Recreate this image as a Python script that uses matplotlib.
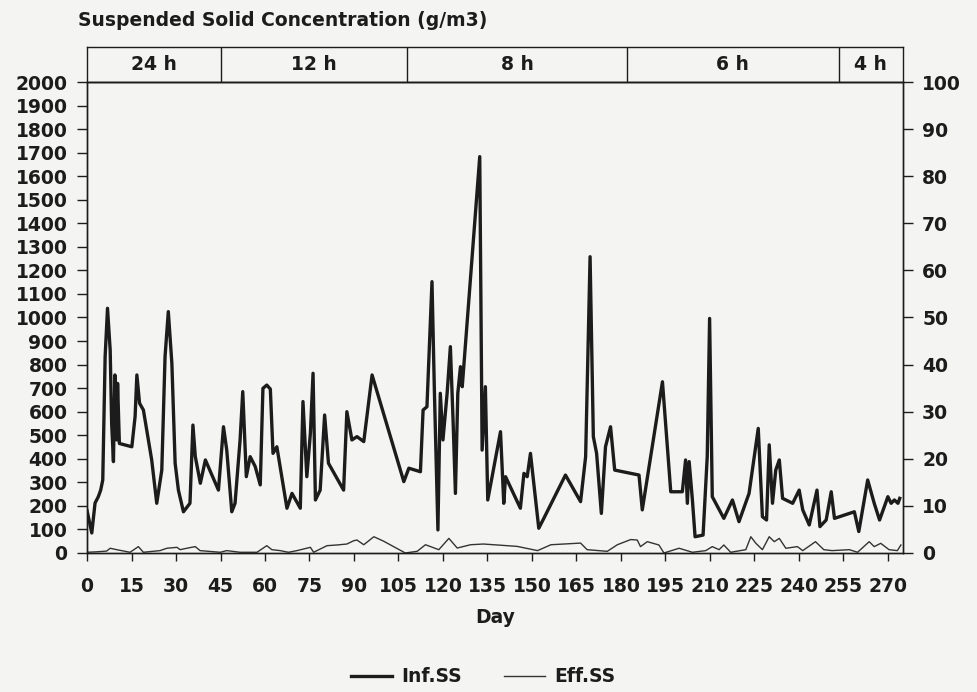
import matplotlib
matplotlib.use("Agg")
import matplotlib.pyplot as plt

# --- data
inf_days = [0, 1.6, 2.7, 3.8, 4.6, 5.3, 6.1, 6.9, 7.8, 8.3,
            8.9, 9.4, 10, 10.3, 10.9, 15.1, 16.2, 16.8, 17.7, 19.0,
            21.8, 23.5, 25.2, 26.3, 27.4, 28.6, 29.7, 30.8, 32.5, 34.7,
            35.7, 36.5, 38.2, 39.9, 44.3, 46.0, 47.1, 48.8, 49.9, 51.6,
            52.5, 53.7, 55.0, 56.7, 58.4, 59.3, 60.6, 61.8, 62.7, 64.0,
            67.4, 69.1, 71.9, 72.8, 74.1, 75.3, 76.2, 77.0, 78.6, 80.1,
            81.4, 86.5, 87.6, 89.3, 91.0, 93.3, 96.1, 106.8, 108.5, 112.4,
            113.3, 114.6, 116.3, 117.1, 118.3, 119.1, 120.0, 121.4, 122.5, 123.4,
            124.2, 125.0, 125.9, 126.5, 132.4, 133.2, 134.3, 135.1, 139.4, 140.5,
            141.1, 146.1, 147.3, 148.4, 149.5, 152.3, 154.0, 161.3, 166.4, 168.1,
            169.6, 170.7, 171.8, 173.4, 174.8, 176.5, 177.9, 186.1, 187.2, 194.0,
            196.8, 200.7, 201.8, 202.4, 203.0, 204.1, 205.0, 207.7, 209.1, 209.9,
            210.8, 214.7, 217.6, 219.8, 223.2, 226.3, 227.7, 229.1, 230.0, 231.1,
            232.2, 233.4, 234.5, 237.9, 240.1, 241.3, 243.5, 246.1, 247.1, 249.2,
            250.9, 252.0, 258.7, 260.2, 263.2, 265.4, 267.2, 270.0, 271.1, 272.2,
            273.4, 274.0]
inf_ss = [180, 85, 212, 239, 267, 310, 834, 1039, 862, 550,
          388, 756, 480, 720, 465, 451, 579, 756, 636, 607,
          395, 211, 352, 834, 1025, 805, 381, 267, 175, 211,
          543, 409, 296, 395, 267, 536, 437, 175, 211, 480,
          685, 324, 409, 367, 289, 699, 713, 696, 423, 451,
          190, 253, 190, 643, 324, 508, 763, 225, 267, 586,
          381, 267, 600, 480, 494, 473, 756, 303, 360, 345,
          607, 621, 1152, 692, 98, 678, 480, 678, 876, 565,
          253, 678, 791, 706, 1683, 437, 706, 225, 515, 211,
          324, 190, 338, 324, 423, 105, 147, 331, 218, 409,
          1258, 494, 423, 168, 451, 536, 352, 331, 183, 727,
          260, 260, 395, 211, 388, 225, 69, 76, 409, 996,
          239, 147, 225, 133, 253, 529, 154, 140, 459, 211,
          352, 395, 232, 211, 267, 183, 119, 267, 112, 140,
          260, 147, 175, 91, 310, 211, 140, 239, 211, 225,
          211, 232]

eff_days = [0, 3.3, 6.6, 7.8, 10, 14.5, 17.3, 19, 24.6, 26.9,
            30.3, 31.4, 33.6, 36.5, 38.1, 44.9, 47.1, 51.6, 57.3, 60.6,
            62.3, 65.1, 67.9, 70.8, 75.3, 76.4, 80.9, 84.3, 87.6, 89.9,
            91, 93.3, 96.7, 100, 107.3, 111.3, 114.1, 118.6, 122, 124.8,
            129.3, 133.6, 139.4, 145, 151.9, 156.4, 166.4, 168.6, 175.4, 178.8,
            183.3, 185.5, 186.6, 188.9, 192.8, 194.5, 199.6, 204.1, 208.6, 210.8,
            213.1, 214.7, 217.0, 222.1, 223.8, 225.5, 227.7, 230.0, 231.7, 233.4,
            235.6, 239.5, 241.3, 245.6, 248.4, 251.2, 257.0, 259.8, 263.7, 265.4,
            267.6, 270.4, 273.2, 274.4]
eff_ss = [3, 5, 8, 20, 14, 3, 27, 3, 10, 20,
          24, 14, 20, 27, 10, 3, 10, 3, 3, 31,
          14, 10, 3, 10, 24, 3, 31, 34, 38, 52,
          55, 35, 69, 50, 0, 7, 35, 14, 62, 21,
          35, 38, 33, 28, 10, 35, 42, 14, 7, 35,
          57, 55, 27, 48, 34, 0, 20, 3, 10, 27,
          14, 34, 3, 14, 69, 41, 14, 69, 48, 62,
          20, 27, 10, 48, 14, 10, 14, 3, 48, 27,
          41, 14, 10, 34]

hrt_labels = ['24 h', '12 h', '8 h', '6 h', '4 h']
hrt_edges = [0, 45, 108, 182, 253.5, 275]

ink = '#1c1c1c'
plt.rcParams['font.family'] = 'DejaVu Sans'
plt.rcParams['font.weight'] = 'bold'
plt.rcParams['text.color'] = ink
plt.rcParams['axes.edgecolor'] = ink
plt.rcParams['xtick.color'] = ink
plt.rcParams['ytick.color'] = ink

fig = plt.figure(figsize=(9.78, 6.92), dpi=100, facecolor='#f4f4f2')
ax = fig.add_axes([0.089, 0.2009, 0.834, 0.6806])
ax.set_facecolor('none')

ax.plot(inf_days, inf_ss, color=ink, lw=2.4, label='Inf.SS')
ax.plot(eff_days, eff_ss, color='#333333', lw=1.0, label='Eff.SS')

ax.set_xlim(0, 275)
ax.set_ylim(0, 2000)
ax.set_xticks(range(0, 271, 15))
ax.set_yticks(range(0, 2001, 100))
ax.tick_params(axis='y', direction='out', length=7, width=1, pad=7, labelsize=13.5)
ax.tick_params(axis='x', direction='out', length=6, width=1, pad=11, labelsize=13.5)
for s in ax.spines.values():
    s.set_linewidth(1)

ax2 = ax.twinx()
ax2.set_ylim(0, 100)
ax2.set_yticks(range(0, 101, 10))
ax2.tick_params(axis='y', direction='out', length=7, width=1, pad=7, labelsize=13.5)
for s in ax2.spines.values():
    s.set_linewidth(1)

# --- HRT band above the plot
band = fig.add_axes([0.089, 0.8815, 0.834, 0.0505])
band.set_facecolor('none')
band.set_xlim(0, 275)
band.set_ylim(0, 1)
band.set_xticks([])
band.set_yticks([])
for s in band.spines.values():
    s.set_linewidth(1)
for edge in hrt_edges[1:-1]:
    band.axvline(edge, color=ink, lw=1)
for lab, a, b in zip(hrt_labels, hrt_edges[:-1], hrt_edges[1:]):
    band.text((a + b) / 2, 0.5, lab, ha='center', va='center', fontsize=13.5)

fig.text(0.08, 0.971, 'Suspended Solid Concentration (g/m3)', ha='left', va='center', fontsize=13.5)
fig.text(0.506, 0.108, 'Day', ha='center', va='center', fontsize=13.5)

fig.legend(loc='center', bbox_to_anchor=(0.494, 0.022), ncol=2, frameon=False,
           fontsize=13.5, handlelength=2.2, columnspacing=2.2, handletextpad=0.5)

fig.savefig('out.png', dpi=100, facecolor=fig.get_facecolor())
